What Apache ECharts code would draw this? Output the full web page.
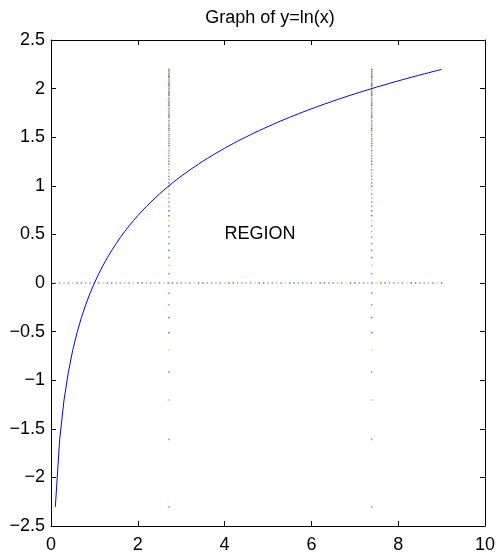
<!DOCTYPE html>
<html>
<head>
<meta charset="utf-8">
<script src="https://cdn.jsdelivr.net/npm/echarts@6/dist/echarts.min.js"></script>
<style>html,body{margin:0;padding:0;background:#fff;}#c{width:498px;height:554px;}</style>
</head>
<body>
<div id="c"></div>
<script>
// x samples of the curve (also the dot positions of the horizontal dotted line)
var xValues = [0.1,0.2,0.3,0.4,0.5,0.6,0.7,0.8,0.9,1.0,1.1,1.2,1.3,1.4,1.5,1.6,1.7,1.8,1.9,2.0,
  2.1,2.2,2.3,2.4,2.5,2.6,2.7,2.8,2.9,3.0,3.1,3.2,3.3,3.4,3.5,3.6,3.7,3.8,3.9,4.0,
  4.1,4.2,4.3,4.4,4.5,4.6,4.7,4.8,4.9,5.0,5.1,5.2,5.3,5.4,5.5,5.6,5.7,5.8,5.9,6.0,
  6.1,6.2,6.3,6.4,6.5,6.6,6.7,6.8,6.9,7.0,7.1,7.2,7.3,7.4,7.5,7.6,7.7,7.8,7.9,8.0,
  8.1,8.2,8.3,8.4,8.5,8.6,8.7,8.8,8.9,9.0];
// y values of the curve (also the dot positions of the vertical dotted lines)
var yValues = [-2.303,-1.609,-1.204,-0.916,-0.693,-0.511,-0.357,-0.223,-0.105,0.000,
  0.095,0.182,0.262,0.336,0.405,0.470,0.531,0.588,0.642,0.693,
  0.742,0.788,0.833,0.875,0.916,0.956,0.993,1.030,1.065,1.099,
  1.131,1.163,1.194,1.224,1.253,1.281,1.308,1.335,1.361,1.386,
  1.411,1.435,1.459,1.482,1.504,1.526,1.548,1.569,1.589,1.609,
  1.629,1.649,1.668,1.686,1.705,1.723,1.740,1.758,1.775,1.792,
  1.808,1.825,1.841,1.856,1.872,1.887,1.902,1.917,1.932,1.946,
  1.960,1.974,1.988,2.001,2.015,2.028,2.041,2.054,2.067,2.079,
  2.092,2.104,2.116,2.128,2.140,2.152,2.163,2.175,2.186,2.197];
var verticalLineX = [2.718, 7.389];
var horizontalLineY = 0;
var regionLabel = {x: 4, y: 0.5, text: 'REGION'};
var titleText = 'Graph of y=ln(x)';
var xTicks = {min: 0, max: 10, interval: 2};
var yTicks = {min: -2.5, max: 2.5, interval: 0.5};

var dotColors = ['#66bb66','#ff6666','#55dddd','#dd55dd','#dddd44','#777777','#6666ff'];
var FONT = 'Liberation Sans, Arial, Helvetica, sans-serif';

var curve = xValues.map(function(x, i){ return [x, yValues[i]]; });
var hDots = xValues.map(function(x){ return [x, horizontalLineY]; });
var vDots = [];
verticalLineX.forEach(function(vx){ yValues.forEach(function(y){ vDots.push([vx, y]); }); });

function minus(v){ return String(v).replace('-', '\u2212'); }

var chart = echarts.init(document.getElementById('c'), null, {renderer: 'canvas'});
var axisCommon = {
  axisLine: {show: true, onZero: false, lineStyle: {color: '#000', width: 1}},
  axisTick: {show: true, inside: true, length: 5, lineStyle: {color: '#000', width: 1}},
  splitLine: {show: false}
};
chart.setOption({
  animation: false,
  backgroundColor: '#fff',
  grid: {left: 51, right: 9, top: 40, bottom: 25.5, containLabel: false},
  graphic: [{
    type: 'text', x: 270, y: 18,
    style: {text: titleText, textAlign: 'center', textVerticalAlign: 'middle', font: '18px ' + FONT, fill: '#000'}
  }],
  xAxis: [
    Object.assign({type: 'value', position: 'bottom', min: xTicks.min, max: xTicks.max, interval: xTicks.interval,
      axisLabel: {color: '#000', fontSize: 18, fontFamily: FONT, margin: 10, formatter: minus, showMaxLabel: true}}, axisCommon),
    Object.assign({type: 'value', position: 'top', min: xTicks.min, max: xTicks.max, interval: xTicks.interval,
      axisLabel: {show: false}}, axisCommon)
  ],
  yAxis: [
    Object.assign({type: 'value', position: 'left', min: yTicks.min, max: yTicks.max, interval: yTicks.interval,
      axisLabel: {color: '#000', fontSize: 18, fontFamily: FONT, margin: 6, padding: [5, 0, 0, 0], formatter: minus}}, axisCommon),
    Object.assign({type: 'value', position: 'right', min: yTicks.min, max: yTicks.max, interval: yTicks.interval,
      axisLabel: {show: false}}, axisCommon)
  ],
  series: [
    {type: 'scatter', data: hDots, symbol: 'rect', symbolSize: 1.5, silent: true,
      itemStyle: {opacity: 1, color: function(p){ return dotColors[p.dataIndex % 7]; }}},
    {type: 'scatter', data: vDots, symbol: 'rect', symbolSize: 1.5, silent: true,
      itemStyle: {opacity: 1, color: function(p){ return dotColors[(p.dataIndex % yValues.length) % 7]; }}},
    {type: 'line', data: curve, showSymbol: false, symbol: 'none', smooth: false, silent: true,
      lineStyle: {color: '#0000ff', width: 1}},
    {type: 'scatter', data: [[regionLabel.x, regionLabel.y]], symbolSize: 0, silent: true,
      itemStyle: {opacity: 1},
      label: {show: true, position: [0, 0], align: 'left', verticalAlign: 'middle', formatter: regionLabel.text,
        color: '#000', opacity: 1, fontSize: 18, fontFamily: FONT}}
  ]
});
</script>
</body>
</html>
